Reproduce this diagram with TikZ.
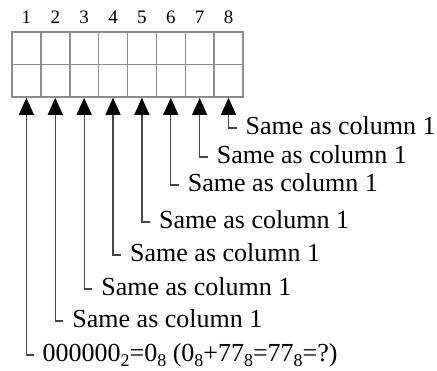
\documentclass[tikz,border=0pt]{standalone}
\usepackage{fontspec}
\setmainfont{Liberation Serif}
\usetikzlibrary{arrows.meta}
\definecolor{gridgray}{RGB}{140,140,140}
\definecolor{linegray}{RGB}{75,70,70}
\newcommand{\sbs}[1]{\raisebox{-0.22em}{\fontsize{18}{18}\selectfont #1}}
\begin{document}
\begin{tikzpicture}[x=1pt,y=-1pt,
  gridline/.style={draw=gridgray,line width=1.5pt},
  colnum/.style={font=\fontsize{19}{22}\selectfont,inner sep=0pt,anchor=base},
  lbl/.style={font=\fontsize{26}{30}\selectfont,inner sep=0pt,anchor=west,text height=18pt,text depth=6pt},
  conn/.style={draw=linegray,line width=1.3pt,-{Triangle[width=15pt,length=17pt,color=black]}}]
\useasboundingbox (0,0) rectangle (437,370);
% grid
\draw[gridline] (12,32) rectangle (243,97);
\draw[gridline] (12,64.5) -- (243,64.5);
\foreach \i in {1,...,7} {\draw[gridline] ({12+28.875*\i},32) -- ({12+28.875*\i},97);}
% column numbers and arrow tips
\foreach \i in {1,...,8} {
  \node[colnum] (n\i) at ({26.4+28.875*(\i-1)},23) {\i};
  \coordinate (t\i) at ({26.4+28.875*(\i-1)},97.8);
}
% corners
\foreach \i/\cy in {1/355,2/321,3/289,4/255,5/222,6/185,7/157,8/128} {
  \coordinate (k\i) at ({26.4+28.875*(\i-1)+8},\cy);
}
\foreach \i/\cy in {2/321,3/289,4/255,5/222,6/185,7/157,8/128} {
  \node[lbl] (l\i) at ({26.4+28.875*(\i-1)+17},\cy) {Same as column 1};
}
\node[lbl] (l1) at ({26.4+16},355) {000000\sbs{2}=0\sbs{8} (0\sbs{8}+77\sbs{8}=77\sbs{8}=?)};
\foreach \i in {1,...,8} {\draw[conn] (k\i) -| (t\i);}
\end{tikzpicture}
\end{document}
